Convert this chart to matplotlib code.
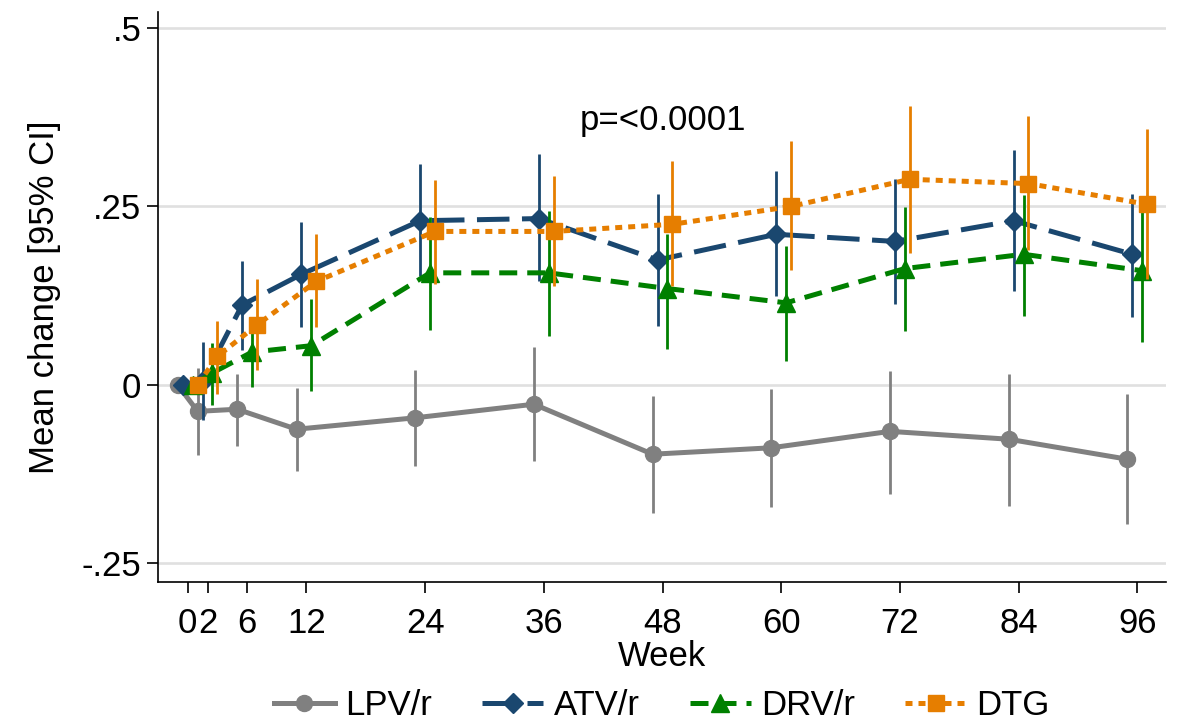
import numpy as np
import matplotlib.pyplot as plt
from matplotlib.lines import Line2D

plt.rcParams['font.family'] = ['Liberation Sans', 'DejaVu Sans']

weeks = [0, 2, 6, 12, 24, 36, 48, 60, 72, 84, 96]

# mean change and 95% CI per regimen
lpv_mean = [0.0, -0.037, -0.034, -0.062, -0.046, -0.027, -0.097, -0.088, -0.065, -0.076, -0.104]
lpv_lo = [0.0, -0.098, -0.085, -0.120, -0.114, -0.107, -0.179, -0.171, -0.153, -0.169, -0.195]
lpv_hi = [0.0, 0.024, 0.015, -0.004, 0.021, 0.053, -0.015, -0.006, 0.020, 0.015, -0.012]

atv_mean = [0.0, 0.005, 0.112, 0.155, 0.230, 0.233, 0.175, 0.211, 0.201, 0.230, 0.183]
atv_lo = [0.0, -0.049, 0.049, 0.081, 0.152, 0.145, 0.082, 0.125, 0.114, 0.131, 0.095]
atv_hi = [0.0, 0.060, 0.174, 0.228, 0.309, 0.323, 0.268, 0.300, 0.288, 0.329, 0.268]

drv_mean = [0.0, 0.017, 0.046, 0.055, 0.157, 0.157, 0.135, 0.115, 0.163, 0.183, 0.160]
drv_lo = [0.0, -0.028, -0.003, -0.009, 0.077, 0.069, 0.050, 0.034, 0.075, 0.096, 0.060]
drv_hi = [0.0, 0.059, 0.095, 0.120, 0.235, 0.243, 0.212, 0.195, 0.249, 0.266, 0.260]

dtg_mean = [0.0, 0.040, 0.084, 0.145, 0.215, 0.215, 0.225, 0.250, 0.288, 0.282, 0.253]
dtg_lo = [0.0, -0.012, 0.021, 0.081, 0.142, 0.139, 0.138, 0.161, 0.185, 0.189, 0.148]
dtg_hi = [0.0, 0.089, 0.148, 0.211, 0.287, 0.292, 0.313, 0.341, 0.391, 0.377, 0.358]

groups = ["LPV/r", "ATV/r", "DRV/r", "DTG"]
offsets = [-1.0, -0.5, 0.5, 1.0]
colors = ["#808080", "#1a476f", "#008000", "#e67e00"]
markers = ["o", "D", "^", "s"]
msizes = [11.5, 10.0, 13.0, 12.0]
dashes = [None, (6.5, 2.5), (3.6, 2.0), (1.4, 1.2)]

means = [lpv_mean, atv_mean, drv_mean, dtg_mean]
los = [lpv_lo, atv_lo, drv_lo, dtg_lo]
his = [lpv_hi, atv_hi, drv_hi, dtg_hi]

fig = plt.figure(figsize=(11.83, 7.24), dpi=100)
ax = fig.add_axes([0.1336, 0.1961, 0.852, 0.788])

for yv in [-0.25, 0, 0.25, 0.5]:
    ax.axhline(yv, color="#e0e0e0", lw=1.9, zorder=0)

handles = []
for i in range(4):
    x = np.array(weeks) + offsets[i]
    z = 2 + i * 2
    ax.vlines(x[1:], np.array(los[i])[1:], np.array(his[i])[1:],
              color=colors[i], lw=2.0, zorder=z)
    ln, = ax.plot(x, means[i], color=colors[i], lw=3.6, marker=markers[i],
                  markersize=msizes[i], zorder=z + 1)
    if dashes[i] is not None:
        ln.set_dashes(dashes[i])
    handles.append(ln)

fs = 25
ax.text(48, 0.37, "p=<0.0001", ha="center", va="center", fontsize=fs)

ax.set_xlim(-3.0, 98.9)
ax.set_ylim(-0.276, 0.523)
ax.set_xticks(weeks)
ax.set_xticklabels([str(w) for w in weeks])
ax.set_yticks([-0.25, 0, 0.25, 0.5])
ax.set_yticklabels(["-.25", "0", ".25", ".5"])
ax.tick_params(axis="both", labelsize=fs, length=8, width=1.2, direction="out")
ax.tick_params(axis="y", pad=4)
ax.tick_params(axis="x", pad=10)
ax.set_xlabel("Week", fontsize=fs, labelpad=0)
ax.set_ylabel("Mean change [95% CI]", fontsize=fs, labelpad=15)

ax.spines["top"].set_visible(False)
ax.spines["right"].set_visible(False)
for s in ["left", "bottom"]:
    ax.spines[s].set_linewidth(1.2)

fig.legend(handles, groups, loc="lower center", bbox_to_anchor=(0.5595, -0.041),
           ncol=4, frameon=False, fontsize=fs, handlelength=1.75,
           handletextpad=0.3, columnspacing=1.45, numpoints=1)

fig.savefig("out.png", dpi=100)
